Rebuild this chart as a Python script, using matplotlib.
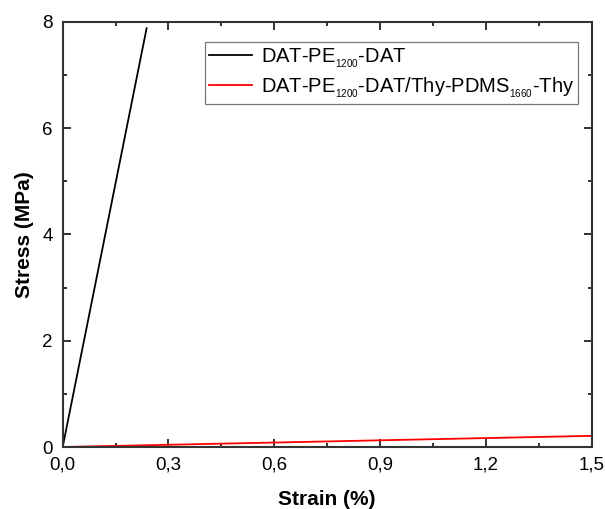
import matplotlib
matplotlib.use('Agg')
import matplotlib.pyplot as plt
from matplotlib.ticker import MultipleLocator, FuncFormatter

# data
strain_pe = [0.0, 0.238]
stress_pe = [0.0, 7.88]
strain_blend = [0.0, 0.75, 1.5]
stress_blend = [0.0, 0.105, 0.21]

# small, low subscripts like the original figure
label_pe = r'DAT-PE$_{_{1200}}$-DAT'
label_blend = r'DAT-PE$_{_{1200}}$-DAT/Thy-PDMS$_{_{1660}}$-Thy'

plt.rcParams['font.family'] = ['Liberation Sans', 'DejaVu Sans']
plt.rcParams['mathtext.fontset'] = 'custom'
plt.rcParams['mathtext.rm'] = 'Liberation Sans'
plt.rcParams['mathtext.it'] = 'Liberation Sans'
plt.rcParams['mathtext.default'] = 'regular'

fig = plt.figure(figsize=(6.05, 5.09), dpi=100)
ax = fig.add_axes([0.1036, 0.1218, 0.8744, 0.8352])

ax.plot(strain_pe, stress_pe, color='black', lw=1.3, label=label_pe)
ax.plot(strain_blend, stress_blend, color='red', lw=1.3, label=label_blend)

ax.set_xlim(0, 1.5)
ax.set_ylim(0, 8)
ax.xaxis.set_major_locator(MultipleLocator(0.3))
ax.xaxis.set_minor_locator(MultipleLocator(0.15))
ax.yaxis.set_major_locator(MultipleLocator(2))
ax.yaxis.set_minor_locator(MultipleLocator(1))
ax.xaxis.set_major_formatter(FuncFormatter(lambda v, p: f"{v:.1f}".replace('.', ',')))
ax.yaxis.set_major_formatter(FuncFormatter(lambda v, p: f"{v:.0f}"))

ax.tick_params(which='both', direction='in', top=True, right=True, width=1.3, color='#222222')
ax.tick_params(which='major', length=6, labelsize=13.5, pad=7)
ax.tick_params(which='minor', length=3)
for s in ax.spines.values():
    s.set_linewidth(1.5)
    s.set_color('#333333')

ax.set_xlabel('Strain (%)', fontsize=15, fontweight='bold', labelpad=12)
ax.set_ylabel('Stress (MPa)', fontsize=15, fontweight='bold', labelpad=6)

leg = ax.legend(loc='upper right', bbox_to_anchor=(0.974, 0.953), fontsize=14.5,
                fancybox=False, framealpha=1, edgecolor='#777777',
                handlelength=2.1, handletextpad=0.45, borderpad=0.2, labelspacing=0.3,
                borderaxespad=0)
leg.get_frame().set_linewidth(0.9)

fig.savefig('out.png', dpi=100)
